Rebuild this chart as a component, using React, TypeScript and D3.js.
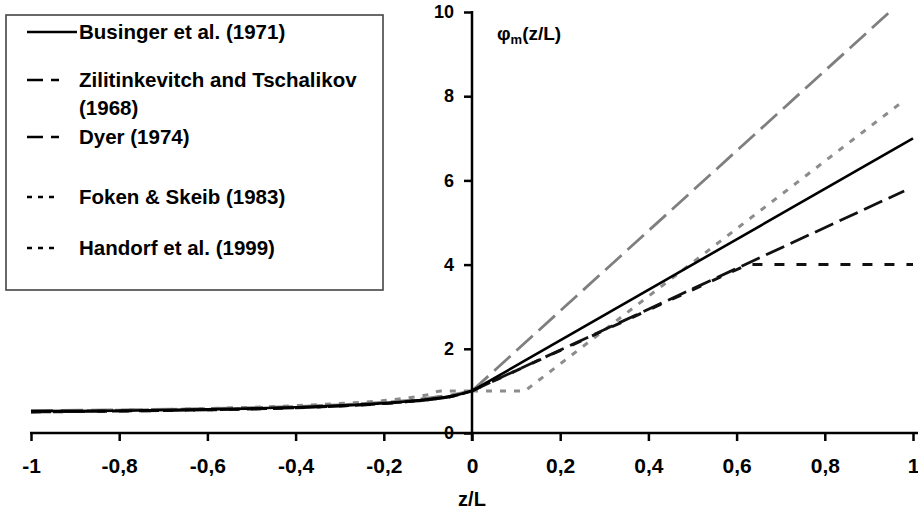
import React, { useEffect, useRef } from "react";
import * as d3 from "d3";

// stability parameter z/L and phi_m
const busingerZ = [-1, -0.8, -0.6, -0.4, -0.3, -0.2, -0.15, -0.1, -0.05, 0, 1];
const busingerPhi = [0.52, 0.53, 0.56, 0.61, 0.65, 0.71, 0.75, 0.8, 0.87, 1, 7.0];

const ztZ = [-1, -0.8, -0.6, -0.4, -0.3, -0.2, -0.15, -0.1, -0.05, 0, 0.947];
const ztPhi = [0.53, 0.55, 0.58, 0.63, 0.67, 0.73, 0.77, 0.83, 0.9, 1, 10];

const dyerZ = [-1, -0.8, -0.6, -0.4, -0.3, -0.2, -0.15, -0.1, -0.05, 0, 0.98];
const dyerPhi = [0.5, 0.52, 0.55, 0.6, 0.64, 0.7, 0.74, 0.79, 0.86, 1, 5.75];

const fokenZ = [-1, -0.8, -0.6, -0.4, -0.3, -0.2, -0.15, -0.1, -0.07, 0, 0.12, 0.98];
const fokenPhi = [0.51, 0.54, 0.58, 0.65, 0.7, 0.77, 0.83, 0.91, 1, 1, 1, 7.9];

const handorfZ = [-1, -0.8, -0.6, -0.4, -0.3, -0.2, -0.15, -0.1, -0.05, 0, 0.625, 1];
const handorfPhi = [0.5, 0.52, 0.55, 0.6, 0.64, 0.7, 0.74, 0.79, 0.86, 1, 4, 4];

const xTicks = [-1, -0.8, -0.6, -0.4, -0.2, 0, 0.2, 0.4, 0.6, 0.8, 1];
const yTicks = [0, 2, 4, 6, 8, 10];

const series = [
  { name: "Foken & Skeib (1983)", z: fokenZ, phi: fokenPhi, color: "#8c8c8c", dash: "6,8", width: 3 },
  { name: "Zilitinkevitch and Tschalikov (1968)", z: ztZ, phi: ztPhi, color: "#7f7f7f", dash: "22,8", width: 2.8 },
  { name: "Handorf et al. (1999)", z: handorfZ, phi: handorfPhi, color: "#111", dash: "10,12", width: 3 },
  { name: "Dyer (1974)", z: dyerZ, phi: dyerPhi, color: "#111", dash: "20,7", width: 2.8 },
  { name: "Businger et al. (1971)", z: busingerZ, phi: busingerPhi, color: "#000", dash: null, width: 2.6 },
];

const FONT = "'Liberation Sans', Arial, sans-serif";

export default function App() {
  const ref = useRef<SVGSVGElement>(null);

  useEffect(() => {
    const width = 918;
    const height = 510;
    const svg = d3.select(ref.current);
    svg.selectAll("*").remove();
    svg.attr("width", width).attr("height", height);

    svg.append("rect").attr("width", width).attr("height", height).attr("fill", "#fff");

    const x = d3.scaleLinear().domain([-1, 1]).range([31, 913]);
    const y = d3.scaleLinear().domain([0, 10]).range([433, 12]);

    // unstable branch smooth, stable branch straight segments
    const smooth = d3
      .line<[number, number]>()
      .x((d) => x(d[0]))
      .y((d) => y(d[1]))
      .curve(d3.curveMonotoneX);
    const straight = d3
      .line<[number, number]>()
      .x((d) => x(d[0]))
      .y((d) => y(d[1]));

    series.forEach((s) => {
      const pts = s.z.map((z, i) => [z, s.phi[i]] as [number, number]);
      const neg = pts.filter((p) => p[0] <= 0);
      const pos = pts.filter((p) => p[0] >= 0);
      [smooth(neg), straight(pos)].forEach((d) => {
        svg
          .append("path")
          .attr("d", d)
          .attr("fill", "none")
          .attr("stroke", s.color)
          .attr("stroke-width", s.width)
          .attr("stroke-dasharray", s.dash ?? null);
      });
    });

    // x axis
    const xAxis = svg
      .append("g")
      .attr("transform", `translate(0,${y(0)})`)
      .call(
        d3
          .axisBottom(x)
          .tickValues(xTicks)
          .tickSize(8)
          .tickPadding(17)
          .tickSizeOuter(0)
          .tickFormat((d) => String(d).replace(".", ","))
      );
    xAxis.select(".domain").remove();
    xAxis.selectAll("line").attr("stroke", "#000").attr("stroke-width", 2.5);
    xAxis
      .selectAll("text")
      .attr("fill", "#000")
      .style("font-family", FONT)
      .style("font-weight", "bold")
      .style("font-size", "21px");
    svg
      .append("line")
      .attr("x1", x(-1) - 1)
      .attr("x2", width)
      .attr("y1", y(0))
      .attr("y2", y(0))
      .attr("stroke", "#000")
      .attr("stroke-width", 2.5);

    // y axis
    const yAxis = svg
      .append("g")
      .attr("transform", `translate(${x(0)},0)`)
      .call(d3.axisLeft(y).tickValues(yTicks).tickSize(8).tickPadding(10).tickSizeOuter(0));
    yAxis.select(".domain").remove();
    yAxis.selectAll("line").attr("stroke", "#000").attr("stroke-width", 2.5);
    yAxis
      .selectAll("text")
      .attr("fill", "#000")
      .style("font-family", FONT)
      .style("font-weight", "bold")
      .style("font-size", "18px");
    svg
      .append("line")
      .attr("x1", x(0))
      .attr("x2", x(0))
      .attr("y1", y(10) - 1)
      .attr("y2", y(0) + 8)
      .attr("stroke", "#000")
      .attr("stroke-width", 2.5);

    // axis titles
    svg
      .append("text")
      .attr("x", x(0))
      .attr("y", 506)
      .attr("text-anchor", "middle")
      .style("font-family", FONT)
      .style("font-weight", "bold")
      .style("font-size", "20px")
      .text("z/L");

    const yl = svg
      .append("text")
      .attr("x", 497)
      .attr("y", 40)
      .style("font-family", FONT)
      .style("font-weight", "bold")
      .style("font-size", "19px");
    yl.append("tspan").text("φ");
    yl.append("tspan").attr("dy", 4).style("font-size", "13px").text("m");
    yl.append("tspan").attr("dy", -4).text("(z/L)");

    // legend
    const lg = svg.append("g");
    lg.append("rect")
      .attr("x", 6)
      .attr("y", 15)
      .attr("width", 377)
      .attr("height", 275)
      .attr("fill", "#fff")
      .attr("stroke", "#444")
      .attr("stroke-width", 1.6);

    const legendRows = [
      { lines: ["Businger et al. (1971)"], y: 32, dash: null, x2: 77 },
      { lines: ["Zilitinkevitch and Tschalikov", "(1968)"], y: 80, dash: "16,8", x2: 59 },
      { lines: ["Dyer (1974)"], y: 137, dash: "16,8", x2: 59 },
      { lines: ["Foken & Skeib (1983)"], y: 197, dash: "5,6", x2: 54 },
      { lines: ["Handorf et al. (1999)"], y: 248, dash: "5,6", x2: 54 },
    ];
    legendRows.forEach((r) => {
      lg.append("line")
        .attr("x1", 27)
        .attr("x2", r.x2)
        .attr("y1", r.y)
        .attr("y2", r.y)
        .attr("stroke", "#000")
        .attr("stroke-width", 2.6)
        .attr("stroke-dasharray", r.dash);
      r.lines.forEach((t, i) => {
        lg.append("text")
          .attr("x", 79)
          .attr("y", r.y + i * 28)
          .attr("dy", "0.35em")
          .style("font-family", FONT)
          .style("font-weight", "bold")
          .style("font-size", "20.5px")
          .text(t);
      });
    });
  }, []);

  return (
    <div style={{ position: "absolute", left: 0, top: 0, width: 918, height: 510, background: "#fff" }}>
      <svg ref={ref} style={{ display: "block" }}></svg>
    </div>
  );
}
